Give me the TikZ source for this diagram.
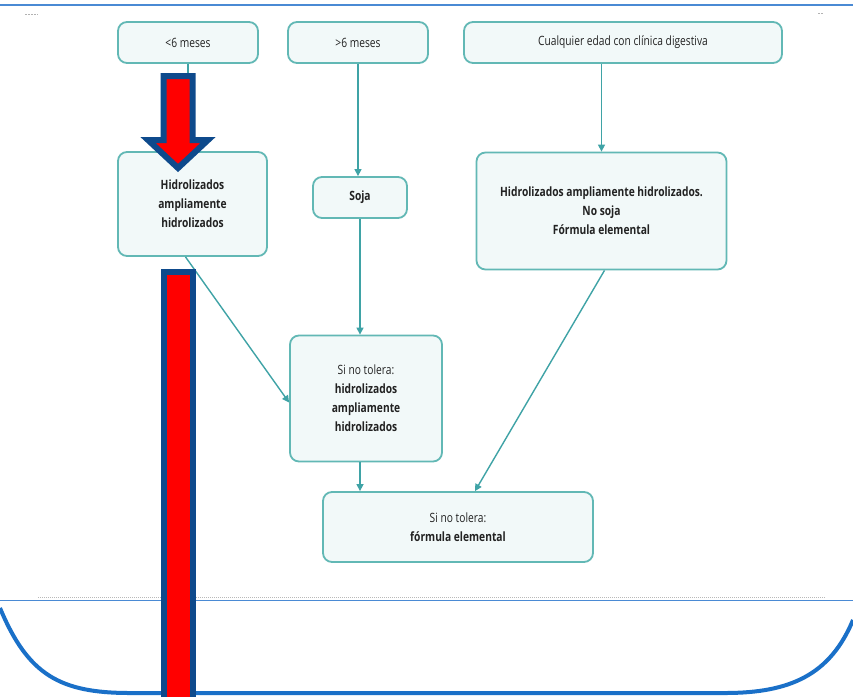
\documentclass[tikz,border=0pt]{standalone}
\usepackage{fontspec}
\setmainfont{Open Sans}[FakeStretch=0.8]
\usetikzlibrary{arrows.meta}
\definecolor{boxline}{HTML}{62B8B5}
\definecolor{boxfill}{HTML}{F2F9F9}
\definecolor{conn}{HTML}{3FA3A6}
\definecolor{txt}{HTML}{222222}
\definecolor{frameblue}{HTML}{1A70C8}
\definecolor{thinblue}{HTML}{4A8AD4}
\definecolor{arrblue}{HTML}{0E4A8C}
\tikzset{
  flowbox/.style={draw=boxline, fill=boxfill, rounded corners=9pt, line width=1.8pt,
    align=center, inner sep=0pt, text=txt, font=\fontsize{12.8}{19}\selectfont},
  arr/.style={draw=conn, line width=1.4pt, -{Triangle[length=7pt,width=7pt]}},
  bigarrow/.style={fill=red, draw=arrblue, line width=6pt, line join=miter, miter limit=10}
}
\begin{document}
\begin{tikzpicture}[x=1pt,y=-1pt]
\useasboundingbox (0,0) rectangle (853,696);
\fill[white] (0,0) rectangle (853,696);
% top line and marks
\draw[thinblue, line width=1.2pt] (0,5) -- (853,5);
\draw[gray!60, line width=0.6pt, dash pattern=on 1.5pt off 1.5pt] (25,14) -- (38,14);
\draw[gray!60, line width=0.6pt, dash pattern=on 1.5pt off 1.5pt] (818,13) -- (824,13);
% boxes
\node[flowbox, minimum width=140pt, minimum height=41pt] (b1) at (188,42.5) {<6 meses};
\node[flowbox, minimum width=140pt, minimum height=41pt] (b2) at (358,42.5) {>6 meses};
\node[flowbox, minimum width=318pt, minimum height=41pt] (b3) at (623,42.5) {Cualquier edad con clínica digestiva};
\node[flowbox, minimum width=149pt, minimum height=104pt] (b4) at (192.5,204) {\bfseries Hidrolizados\\\bfseries ampliamente\\\bfseries hidrolizados};
\node[flowbox, minimum width=94pt, minimum height=41pt] (b5) at (360,197.5) {\bfseries Soja};
\node[flowbox, minimum width=250pt, minimum height=117pt] (b6) at (601.5,211) {\bfseries Hidrolizados ampliamente hidrolizados.\\\bfseries No soja\\\bfseries Fórmula elemental};
\node[flowbox, minimum width=152pt, minimum height=126pt] (b7) at (366,398.5) {Si no tolera:\\\bfseries hidrolizados\\\bfseries ampliamente\\\bfseries hidrolizados};
\node[flowbox, minimum width=270pt, minimum height=70pt] (b8) at (458,527) {Si no tolera:\\\bfseries fórmula elemental};
% connectors
\draw[arr] (b1.south) -- (b1.south |- b4.north);
\draw[arr] (b2.south) -- (b2.south |- b5.north);
\draw[arr] (b5.south) -- (b5.south |- b7.north);
\draw[arr] (b6.north |- b3.south) -- (b6.north);
\draw[arr] ([xshift=-7pt]b4.south) -- ([yshift=-4pt]b7.west);
\draw[arr] ([xshift=3pt]b6.south) -- ([xshift=17pt]b8.north);
\draw[arr] ([xshift=-6pt]b7.south) -- ([xshift=-6pt]b7.south |- b8.north);
% bottom lines and frame
\draw[gray!55, line width=0.8pt, dash pattern=on 1pt off 1pt] (38,597) -- (826,597);
\draw[thinblue, line width=1.2pt] (0,600.5) -- (853,600.5);
\draw[frameblue, line width=4pt] (0,608) .. controls (28,675) and (60,693) .. (130,693) -- (725,693) .. controls (790,693) and (830,675) .. (853,620);
% red arrow overlay
\draw[bigarrow] (163.5,76) -- (192.5,76) -- (192.5,140) -- (208,140) -- (178,168) -- (148,140) -- (163.5,140) -- cycle;
\draw[bigarrow] (163.5,272) rectangle (192.5,705);
\end{tikzpicture}
\end{document}
